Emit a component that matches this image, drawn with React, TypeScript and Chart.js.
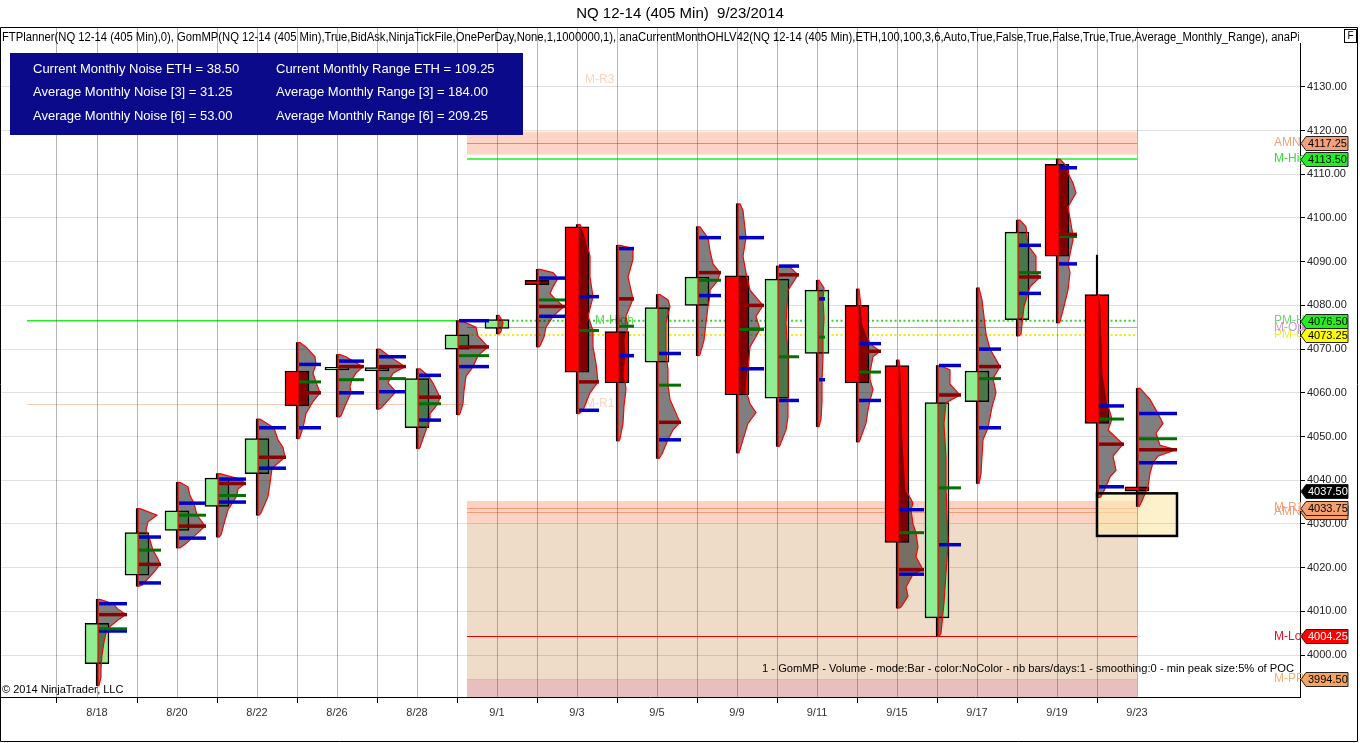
import React, { useEffect, useRef } from "react";
import { Chart, registerables } from "chart.js";

Chart.register(...registerables);

const FONT = "'Liberation Sans', Arial, Helvetica, sans-serif";
Chart.defaults.font.family = FONT;

// ---- bars (one per session) ----
const dayLabels = ["8/18","8/19","8/20","8/21","8/22","8/25","8/26","8/27","8/28","8/29","9/1","9/2","9/3","9/4","9/5","9/8","9/9","9/10","9/11","9/12","9/15","9/16","9/17","9/18","9/19","9/22","9/23"];
const opens  = [3998, 4018.25, 4028.5, 4034, 4041.5, 4065, 4065.25, 4065, 4052, 4070, 4074.75, 4085.75, 4098, 4074, 4067, 4080, 4086.75, 4058.75, 4069, 4080, 4066.25, 4008.5, 4058, 4076.75, 4112.25, 4082.5, 4038.5];
const highs  = [4012.75, 4033.5, 4039.5, 4041.5, 4054, 4071.5, 4068.75, 4070, 4065.5, 4076.5, 4077.75, 4088.25, 4098.5, 4093.75, 4082.5, 4098, 4103.25, 4089, 4085.75, 4083.75, 4067.5, 4066.25, 4084, 4099.5, 4113.5, 4091.5, 4061];
const lows   = [3993, 4015.75, 4024.5, 4027, 4032, 4049.5, 4054.5, 4056.25, 4047.25, 4055, 4073.5, 4070.5, 4055.25, 4049, 4045, 4068.5, 4046.25, 4047.75, 4052.25, 4048.75, 4010.75, 4004.25, 4039.25, 4073, 4076, 4036, 4034];
const closes = [4007.25, 4028, 4033, 4040.5, 4049.5, 4057, 4065.5, 4065.75, 4063.25, 4073.25, 4076.75, 4084.75, 4064.75, 4062.25, 4079.5, 4086.5, 4059.5, 4086, 4083.5, 4062.25, 4025.75, 4057.75, 4065, 4096.75, 4091.25, 4053, 4037.5];

// ---- volume profiles: [price, relative volume] ----
const profiles: number[][][] = [
  [[4012.75,2],[4011.75,15],[4010.5,20],[4009.25,28],[4008,20],[4006.5,12],[4005,8],[4003,6],[4000,4],[3997,3],[3995,3],[3993,1]],
  [[4033.5,2],[4032,19],[4030.5,10],[4028.5,8],[4027,11],[4024,15],[4022,20],[4020.75,22],[4019,16],[4017.5,10],[4016,4],[4015.75,1]],
  [[4039.5,2],[4038.5,10],[4036.5,12],[4034.75,16],[4032,19],[4030.5,24],[4029.5,27],[4028,20],[4026.75,14],[4025.5,8],[4024.5,2]],
  [[4041.5,2],[4040.25,22],[4039.25,27],[4038,20],[4036.5,19],[4035,15],[4033.25,10],[4030,6],[4027.5,3],[4027,1]],
  [[4054,2],[4052,16],[4049.25,20],[4047.5,25],[4045.25,27],[4042.75,14],[4039.25,12],[4036.25,10],[4032.5,3],[4032,1]],
  [[4071.5,2],[4070.5,8],[4068.25,17],[4066.5,18],[4064.5,15],[4062.5,18],[4060,22],[4058,15],[4055.25,8],[4052,5],[4050,2],[4049.5,1]],
  [[4068.75,2],[4068.25,8],[4067.25,15],[4066,25],[4064.5,18],[4063,14],[4061.5,12],[4060,13],[4057.5,8],[4054.75,3],[4054.5,1]],
  [[4070,2],[4068.25,12],[4066,27],[4064.5,15],[4063.25,12],[4062.25,10],[4060.25,18],[4058.25,10],[4056.5,3],[4056.25,1]],
  [[4065.5,2],[4064,10],[4062.25,15],[4059,22],[4057.5,20],[4055.25,12],[4053.75,12],[4051.5,8],[4047.5,2],[4047.25,1]],
  [[4076.5,2],[4076,8],[4075,18],[4073,20],[4070.5,30],[4068.5,20],[4066,15],[4063.75,8],[4060.5,6],[4057.5,5],[4055.25,2],[4055,1]],
  [[4077.75,1],[4077,3],[4076,5],[4075,4],[4074,3],[4073.5,1]],
  [[4088.25,2],[4087.5,15],[4086.25,20],[4084.25,15],[4082.75,12],[4081.25,18],[4079.75,26],[4077.5,15],[4075,8],[4072.75,6],[4070.75,2],[4070.5,1]],
  [[4098.5,2],[4097.25,5],[4095,8],[4091.25,12],[4086.5,12],[4082,15],[4077.5,10],[4074.25,15],[4070.5,15],[4066.75,18],[4062.5,20],[4060,12],[4056,5],[4055.25,1]],
  [[4093.75,2],[4093,15],[4090.5,15],[4086.5,10],[4081.5,15],[4077.5,8],[4075.25,10],[4072,7],[4068.5,8],[4064.5,6],[4060.75,8],[4057,6],[4053,5],[4049.5,2],[4049,1]],
  [[4082.5,2],[4081.25,10],[4079.75,12],[4076,8],[4072.75,8],[4069,8],[4065.25,10],[4061.75,10],[4058.5,12],[4053.25,22],[4051.5,15],[4049.25,10],[4046,4],[4045,1]],
  [[4098,2],[4097,5],[4095.5,10],[4092.5,12],[4089.5,15],[4087.5,22],[4085.75,20],[4083.5,12],[4082.25,12],[4079.75,10],[4076,8],[4072,6],[4068.75,2],[4068.5,1]],
  [[4103.25,2],[4101.75,5],[4095.5,8],[4091.25,5],[4087.5,8],[4083.5,12],[4080,25],[4077.5,18],[4074.5,22],[4070.5,12],[4065.5,10],[4060.5,8],[4057.5,12],[4055.5,18],[4053,10],[4047,2],[4046.25,1]],
  [[4089,2],[4088.75,12],[4087,20],[4083.5,10],[4076,8],[4068.25,10],[4064.5,10],[4060.5,10],[4058.25,10],[4054.5,10],[4051.5,8],[4048,2],[4047.75,1]],
  [[4085.75,1],[4084,6],[4081.5,5],[4077,6],[4072.75,5],[4068,5],[4063,4],[4058,4],[4054,3],[4052.25,1]],
  [[4083.75,1],[4079.75,3],[4075.5,5],[4071.25,12],[4069.5,22],[4068.25,15],[4064.75,12],[4063,12],[4060.75,15],[4058.25,12],[4056,10],[4053,8],[4049.25,2],[4048.75,1]],
  [[4067.5,1],[4064.5,3],[4049.25,5],[4037.75,8],[4034.75,15],[4033.25,13],[4030,15],[4028,18],[4024.75,20],[4022.5,18],[4019.5,25],[4018.5,15],[4015.5,8],[4013.5,10],[4011,3],[4010.75,1]],
  [[4066.25,2],[4065.25,12],[4062,12],[4059.5,22],[4057.75,8],[4053,6],[4045,8],[4038.25,8],[4032,9],[4025.25,10],[4018.75,8],[4012,6],[4005,3],[4004.25,1]],
  [[4084,1],[4081.25,4],[4073.5,8],[4070,12],[4066,22],[4063.25,15],[4060,18],[4056.75,14],[4052,10],[4049.25,5],[4041.5,3],[4039.25,1]],
  [[4099.5,2],[4098,8],[4093.75,10],[4091.25,18],[4087.5,18],[4086.5,22],[4084.25,12],[4082.75,10],[4079.75,6],[4073.5,3],[4073,1]],
  [[4113.5,2],[4111.5,10],[4110.25,10],[4108,15],[4105.75,18],[4102.5,10],[4096,15],[4095,15],[4089.5,10],[4087.5,12],[4083.5,10],[4079.75,6],[4076.25,2],[4076,1]],
  [[4082.5,1],[4079.75,3],[4064.5,5],[4057,10],[4054,14],[4051.5,10],[4048.25,25],[4045.5,15],[4042.25,18],[4040.75,12],[4038.5,8],[4036.25,3],[4036,1]],
  [[4061,2],[4058.5,12],[4055.25,20],[4053,25],[4050.75,18],[4048,22],[4047,38],[4045.5,20],[4044,15],[4041.5,12],[4038.5,10],[4034.75,3],[4034,1]],
];
const valueAreaHigh = [4011.75, 4027, 4034.75, 4040.25, 4052, 4066.5, 4067.25, 4068.25, 4064, 4076.5, null, 4086.25, 4082, 4093, 4069, 4095.5, 4095.5, 4089, 4081.5, 4071.25, 4033.25, 4066.25, 4070, 4093.75, 4111.5, 4057, 4055.25];
const valueAreaLow  = [4005.5, 4016.5, 4026.75, 4035, 4042.75, 4052, 4060, 4060.25, 4053.75, 4066, null, 4077.5, 4056, 4068.5, 4049.25, 4082.25, 4065.5, 4058.25, 4063, 4058.25, 4018.5, 4025.25, 4052, 4082.75, 4089.5, 4038.5, 4044];
const pocLevels     = [4009.25, 4020.75, 4029.5, 4039.25, 4045.25, 4060, 4066, 4066, 4059, 4070.5, null, 4079.75, 4062.5, 4081.5, 4053.25, 4087.5, 4080, 4087, null, 4069.5, 4019.5, 4059.5, 4066, 4086.5, 4096.25, 4048.25, 4047];
const vwapLevels    = [4006, 4024, 4032, 4036.5, null, 4062.5, 4063, 4063.25, 4057.5, 4068.5, null, 4081.25, 4074.25, 4075.25, 4061.75, 4085.75, 4074.5, 4068.25, 4072.75, 4064.75, 4028, 4038.25, 4063.25, 4087.5, 4095.75, 4054, 4049.5];

// ---- axis ----
const yTicks = [4000, 4010, 4020, 4030, 4040, 4050, 4060, 4070, 4080, 4090, 4100, 4110, 4120, 4130];
const gridIndexes = [-1, 0, 1, 2, 3, 4, 5, 6, 7, 8, 9, 10, 11, 12, 13, 14, 15, 16, 17, 18, 19, 20, 21, 22, 23, 24, 25, 26];
const xRange = [-2.425, 30.075];
const yRange = [3990.4, 4143.7];

// ---- monthly levels ----
const prevMonthStart = -1.75;
const monthStart = 9.25;
const monthEnd = 26;
const amnBand = [4114.5, 4119.75];
const amnHigh = 4117.25;
const monthHigh = 4113.5;
const prevMonthHigh = 4076.5;
const monthOpen = 4075;
const prevMonthClose = 4073.25;
const prevMonthR = 4057.5;
const lowBand = [4030, 4035.25];
const lowBandLines = [4033.75, 4032.75];
const monthLow = 4004.25;
const monthPivot = 3994.5;
const projectionBox = [4027.25, 4037];
const projectionBoxIdx = [25, 27];

// ---- right-axis tags ----
const tagValues = [4117.25, 4113.5, 4076.5, 4073.25, 4037.5, 4032.75, 4033.75, 4004.25, 3994.5];
const tagNames  = ["AMN", "M-High", "PM-High", "PM-Close", "", "AMN", "M-R1", "M-Low", "M-PP"];
const tagFill   = ["#f4a07c", "#22ee22", "#22ee22", "#ffff00", "#000000", "#f4a06c", "#f4a06c", "#ff0000", "#f4a460"];
const tagText   = ["#000", "#000", "#000", "#000", "#fff", "#000", "#000", "#fff", "#000"];
const tagNameColor = ["#f4a07c", "#33dd33", "#66dd66", "#eeee33", "#000", "#f4a07c", "#f4a07c", "#e0102a", "#f4b070"];

const infoRows = [
  ["Current Monthly Noise ETH = 38.50", "Current Monthly Range ETH = 109.25"],
  ["Average Monthly Noise [3] = 31.25", "Average Monthly Range [3] = 184.00"],
  ["Average Monthly Noise [6] = 53.00", "Average Monthly Range [6] = 209.25"],
];
const indicatorText = "FTPlanner(NQ 12-14 (405 Min),0), GomMP(NQ 12-14 (405 Min),True,BidAsk,NinjaTickFile,OnePerDay,None,1,1000000,1), anaCurrentMonthOHLV42(NQ 12-14 (405 Min),ETH,100,100,3,6,Auto,True,False,True,False,True,True,Average_Monthly_Range), anaPi";
const gomText = "1 - GomMP - Volume - mode:Bar - color:NoColor - nb bars/days:1 - smoothing:0 - min peak size:5% of POC";

function fitText(ctx: CanvasRenderingContext2D, text: string, x: number, y: number, width: number) {
  const w = ctx.measureText(text).width;
  const s = width / w;
  ctx.save();
  ctx.translate(x, y);
  ctx.scale(s, 1);
  ctx.textAlign = "left";
  ctx.fillText(text, 0, 0);
  ctx.restore();
}

export default function App() {
  const ref = useRef<HTMLCanvasElement>(null);

  useEffect(() => {
    const canvas = ref.current!;
    const idx = dayLabels.map((_, i) => i);
    const bodyData = idx.map((i) => ({ x: i, y: [Math.min(opens[i], closes[i]), Math.max(opens[i], closes[i])] }));
    const wickData = idx.map((i) => ({ x: i, y: [lows[i], highs[i]] }));
    const bodyColors = idx.map((i) => (closes[i] >= opens[i] ? "#90ee90" : "#ff0000"));

    const hline = (ctx: any, y: number, x0: number, x1: number, color: string, width = 1, dash: number[] = []) => {
      ctx.save();
      ctx.strokeStyle = color;
      ctx.lineWidth = width;
      ctx.setLineDash(dash);
      const yy = width === 1 ? Math.round(y) + 0.5 : y;
      ctx.beginPath();
      ctx.moveTo(x0, yy);
      ctx.lineTo(x1, yy);
      ctx.stroke();
      ctx.restore();
    };

    const backgroundPlugin = {
      id: "levelsBackground",
      beforeDraw(chart: any) {
        const ctx = chart.ctx;
        const { left, right, top, bottom } = chart.chartArea;
        const X = (v: number) => chart.scales.x.getPixelForValue(v);
        const Y = (v: number) => chart.scales.y.getPixelForValue(v);
        ctx.save();
        ctx.fillStyle = "#ffffff";
        ctx.fillRect(0, 0, chart.width, chart.height);
        ctx.beginPath();
        ctx.rect(left, top, right - left, bottom - top);
        ctx.clip();
        const xm = X(monthStart), xe = X(monthEnd), xp = X(prevMonthStart);
        // lower zone
        ctx.fillStyle = "#efdcc8";
        ctx.fillRect(xm, Y(lowBand[0]), xe - xm, bottom - Y(lowBand[0]));
        ctx.fillStyle = "#e7bfbf";
        ctx.fillRect(xm, Y(monthPivot), xe - xm, bottom - Y(monthPivot));
        hline(ctx, Y(monthPivot), xm, xe, "#f2b48c", 1);
        ctx.fillStyle = "rgba(250,175,145,0.55)";
        ctx.fillRect(xm, Y(lowBand[1]), xe - xm, Y(lowBand[0]) - Y(lowBand[1]));
        lowBandLines.forEach((v) => hline(ctx, Y(v), xm, xe, "#f39a78", 1));
        // upper AMN band
        ctx.fillStyle = "rgba(250,185,160,0.6)";
        ctx.fillRect(xm, Y(amnBand[1]), xe - xm, Y(amnBand[0]) - Y(amnBand[1]));
        hline(ctx, Y(amnHigh), xm, xe, "#f08468", 1);
        hline(ctx, Y(monthHigh), xm, xe, "#22ee22", 1.6);
        hline(ctx, Y(monthLow), xm, xe, "#e00000", 1);
        // previous month
        hline(ctx, Y(prevMonthHigh), xp, xm, "#22ee22", 1.6);
        hline(ctx, Y(prevMonthR), xp, xm, "#f8cdb4", 1);
        hline(ctx, Y(prevMonthHigh), xm, xe, "#33dd33", 2, [2, 2.5]);
        hline(ctx, Y(monthOpen), xm, xe, "#c89adc", 1);
        hline(ctx, Y(prevMonthClose), xm, xe, "#f0f000", 2, [2, 2.5]);
        // projection box fill
        const bx0 = X(projectionBoxIdx[0]), bx1 = X(projectionBoxIdx[1]);
        ctx.fillStyle = "rgba(252,232,170,0.6)";
        ctx.fillRect(bx0, Y(projectionBox[1]), bx1 - bx0, Y(projectionBox[0]) - Y(projectionBox[1]));
        // faint labels
        ctx.font = `12px ${FONT}`;
        ctx.textBaseline = "middle";
        ctx.textAlign = "left";
        ctx.fillStyle = "#f9d6c2";
        ctx.fillText("M-R3", X(12.2), Y(4131.6));
        ctx.fillText("M-R1", X(12.2), Y(prevMonthR));
        ctx.fillStyle = "#55dd55";
        ctx.fillText("M-High", X(12.45), Y(prevMonthHigh));
        ctx.restore();
      },
    };

    const profilePlugin = {
      id: "volumeProfiles",
      afterDatasetsDraw(chart: any) {
        const ctx = chart.ctx;
        const { left, right, top, bottom } = chart.chartArea;
        const X = (v: number) => chart.scales.x.getPixelForValue(v);
        const Y = (v: number) => chart.scales.y.getPixelForValue(v);
        ctx.save();
        ctx.beginPath();
        ctx.rect(left, top, right - left, bottom - top);
        ctx.clip();
        profiles.forEach((nodes, k) => {
          const xw = X(k) + 1;
          ctx.beginPath();
          ctx.moveTo(xw, Y(nodes[0][0]));
          nodes.forEach(([p, v]) => ctx.lineTo(xw + v, Y(p)));
          ctx.lineTo(xw, Y(nodes[nodes.length - 1][0]));
          ctx.closePath();
          ctx.fillStyle = "rgba(0,0,0,0.5)";
          ctx.fill();
          ctx.strokeStyle = "#ff0000";
          ctx.lineWidth = 1.2;
          ctx.stroke();
          const maxW = Math.max(...nodes.map((n) => n[1]));
          const mark = (p: number | null, color: string, w: number) => {
            if (p == null) return;
            ctx.save();
            ctx.strokeStyle = color;
            ctx.lineWidth = w;
            ctx.beginPath();
            ctx.moveTo(xw + 1, Y(p));
            ctx.lineTo(xw + 1 + maxW, Y(p));
            ctx.stroke();
            ctx.restore();
          };
          mark(valueAreaHigh[k], "#0000c8", 3.5);
          mark(valueAreaLow[k], "#0000c8", 3.5);
          mark(vwapLevels[k], "#007000", 3);
          mark(pocLevels[k], "#8b0000", 3.5);
        });
        // projection box border
        const bx0 = X(projectionBoxIdx[0]), bx1 = X(projectionBoxIdx[1]);
        ctx.strokeStyle = "#000";
        ctx.lineWidth = 2.5;
        ctx.strokeRect(bx0, Y(projectionBox[1]), bx1 - bx0, Y(projectionBox[0]) - Y(projectionBox[1]));
        ctx.restore();
      },
    };

    const overlayPlugin = {
      id: "overlay",
      afterDraw(chart: any) {
        const ctx = chart.ctx;
        const { right, bottom } = chart.chartArea;
        const Y = (v: number) => chart.scales.y.getPixelForValue(v);
        ctx.save();
        ctx.textBaseline = "middle";
        // indicator line
        ctx.save();
        ctx.beginPath();
        ctx.rect(0, 28, right - 1, 20);
        ctx.clip();
        ctx.fillStyle = "#000";
        ctx.font = `12px ${FONT}`;
        fitText(ctx, indicatorText, 2, 38, right - 2);
        ctx.restore();
        // info box
        ctx.fillStyle = "#0a0a8b";
        ctx.fillRect(10, 53, 513, 82);
        ctx.fillStyle = "#ffffff";
        ctx.font = `13px ${FONT}`;
        ctx.textAlign = "left";
        infoRows.forEach((row, r) => {
          ctx.fillText(row[0], 33, 69 + r * 23.5);
          ctx.fillText(row[1], 276, 69 + r * 23.5);
        });
        // y-axis line
        ctx.strokeStyle = "#000";
        ctx.lineWidth = 1;
        ctx.beginPath();
        ctx.moveTo(right + 0.5, 43);
        ctx.lineTo(right + 0.5, bottom);
        ctx.stroke();
        // tag names
        ctx.font = `12px ${FONT}`;
        tagValues.forEach((v, i) => {
          if (!tagNames[i]) return;
          ctx.fillStyle = tagNameColor[i];
          ctx.fillText(tagNames[i], right - 26, Y(v));
        });
        // M-Open diamond
        const yo = Y(monthOpen);
        ctx.fillStyle = "#c89adc";
        ctx.beginPath();
        ctx.moveTo(right + 1, yo);
        ctx.lineTo(right + 4, yo - 3);
        ctx.lineTo(right + 7, yo);
        ctx.lineTo(right + 4, yo + 3);
        ctx.closePath();
        ctx.fill();
        ctx.fillText("M-Open", right - 26, yo);
        // tags
        ctx.font = `11px ${FONT}`;
        tagValues.forEach((v, i) => {
          const y = Math.round(Y(v)) + 0.5;
          const xt = right + 1, x0 = right + 6, x1 = right + 48, h = 7;
          ctx.beginPath();
          ctx.moveTo(xt, y);
          ctx.lineTo(x0, y - h);
          ctx.lineTo(x1, y - h);
          ctx.lineTo(x1, y + h);
          ctx.lineTo(x0, y + h);
          ctx.closePath();
          ctx.fillStyle = tagFill[i];
          ctx.fill();
          ctx.strokeStyle = "#222";
          ctx.lineWidth = 1;
          ctx.stroke();
          ctx.fillStyle = tagText[i];
          ctx.fillText(v.toFixed(2), x0 + 2, y + 0.5);
        });
        // bottom texts
        ctx.fillStyle = "#000";
        ctx.font = `11px ${FONT}`;
        fitText(ctx, gomText, 762, Y(3996.9), 532);
        ctx.fillText("\u00a9 2014 NinjaTrader, LLC", 2, 690);
        // F box
        ctx.strokeStyle = "#000";
        ctx.lineWidth = 1;
        ctx.strokeRect(1344.5, 29.5, 12, 13);
        ctx.font = `10px ${FONT}`;
        ctx.textAlign = "center";
        ctx.fillText("F", 1350.5, 36.5);
        // frame
        ctx.beginPath();
        ctx.moveTo(0.5, 27.5);
        ctx.lineTo(1357.5, 27.5);
        ctx.lineTo(1357.5, 741.5);
        ctx.lineTo(0.5, 741.5);
        ctx.closePath();
        ctx.stroke();
        ctx.restore();
      },
    };

    const chart = new Chart(canvas, {
      type: "bar",
      data: {
        datasets: [
          {
            label: "body",
            data: bodyData as any,
            backgroundColor: bodyColors,
            borderColor: "#000",
            borderWidth: 1.5,
            borderSkipped: false,
            barThickness: 24,
            minBarLength: 2.5,
            grouped: false,
            order: 1,
          } as any,
          {
            label: "wick",
            data: wickData as any,
            backgroundColor: "#000",
            borderWidth: 0,
            barThickness: 1.5,
            grouped: false,
            order: 2,
          } as any,
        ],
      },
      options: {
        responsive: false,
        animation: false,
        events: [],
        layout: { padding: 0, autoPadding: false } as any,
        plugins: {
          legend: { display: false },
          tooltip: { enabled: false },
          title: {
            display: true,
            text: "NQ 12-14 (405 Min)  9/23/2014",
            color: "#000",
            font: { family: FONT, size: 15, weight: "normal" },
            padding: { top: 5, bottom: 4 },
          },
        },
        scales: {
          x: {
            type: "linear",
            min: xRange[0],
            max: xRange[1],
            offset: false,
            afterBuildTicks: (s: any) => {
              s.ticks = gridIndexes.map((v) => ({ value: v }));
            },
            afterFit: (s: any) => {
              s.height = 46;
            },
            grid: {
              offset: false,
              color: "rgba(90,90,90,0.45)",
              lineWidth: 1,
              drawTicks: true,
              tickLength: 6,
              tickColor: (c: any) => (c.tick && Math.abs(c.tick.value % 2) === 1 ? "#000" : "rgba(0,0,0,0)"),
            },
            border: { display: true, color: "#000", width: 1 },
            ticks: {
              autoSkip: false,
              maxRotation: 0,
              minRotation: 0,
              padding: 3,
              color: "#333",
              font: { family: FONT, size: 11 },
              callback: (v: any) => {
                const n = Number(v);
                return n >= 0 && n % 2 === 0 && n < dayLabels.length ? dayLabels[n] : "";
              },
            },
          } as any,
          y: {
            type: "linear",
            position: "right",
            min: yRange[0],
            max: yRange[1],
            afterBuildTicks: (s: any) => {
              s.ticks = yTicks.map((v) => ({ value: v }));
            },
            afterFit: (s: any) => {
              s.width = 60;
            },
            grid: { color: "rgba(0,0,0,0.12)", lineWidth: 1, tickLength: 5, tickColor: "#000" },
            border: { display: false },
            ticks: {
              padding: 2,
              color: "#222",
              font: { family: FONT, size: 11 },
              callback: (v: any) => Number(v).toFixed(2),
            },
          } as any,
        },
      },
      plugins: [backgroundPlugin, profilePlugin, overlayPlugin],
    });
    return () => chart.destroy();
  }, []);

  return (
    <div style={{ position: "fixed", left: 0, top: 0, width: 1360, height: 743, background: "#fff" }}>
      <canvas ref={ref} width={1360} height={743} style={{ display: "block", width: 1360, height: 743 }} />
    </div>
  );
}
